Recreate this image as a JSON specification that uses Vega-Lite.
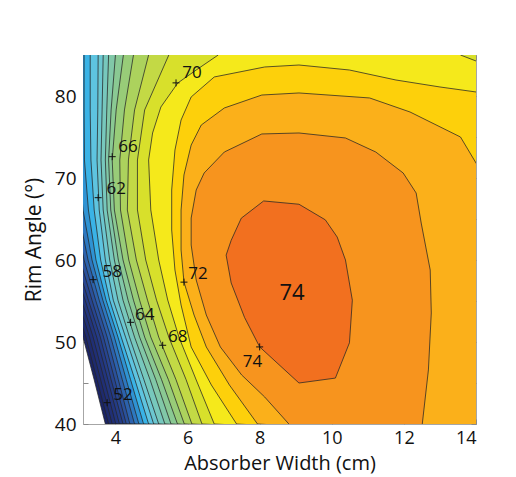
{
  "$schema": "https://vega.github.io/schema/vega-lite/v6.json",
  "width": 393,
  "height": 369,
  "autosize": {"type": "none"},
  "padding": {"left": 83, "top": 55, "right": 40, "bottom": 53},
  "background": "white",
  "config": {
    "font": "Open Sans",
    "view": {"stroke": "#a6a6a6", "strokeWidth": 1},
    "axis": {"grid": false, "domain": false, "tickColor": "#8a8a8a", "tickWidth": 1, "labelColor": "#111111", "titleColor": "#111111", "titleFontWeight": "normal"}
  },
  "datasets": {
    "contours": [
      {"level":50,"i":0,"x":1.87,"y":85},{"level":50,"i":1,"x":1.84,"y":78.3},{"level":50,"i":2,"x":1.67,"y":72.2},{"level":50,"i":3,"x":2.04,"y":66.1},{"level":50,"i":4,"x":2.34,"y":60},{"level":50,"i":5,"x":2.76,"y":55.1},{"level":50,"i":6,"x":3.10,"y":50.6},{"level":50,"i":7,"x":3.41,"y":45.4},{"level":50,"i":8,"x":3.72,"y":40},{"level":50,"i":9,"x":16,"y":38},{"level":50,"i":10,"x":16,"y":87},
      {"level":51,"i":0,"x":2.01,"y":85},{"level":51,"i":1,"x":1.98,"y":78.3},{"level":51,"i":2,"x":1.83,"y":72.2},{"level":51,"i":3,"x":2.12,"y":66.1},{"level":51,"i":4,"x":2.46,"y":60},{"level":51,"i":5,"x":2.86,"y":55.1},{"level":51,"i":6,"x":3.18,"y":50.6},{"level":51,"i":7,"x":3.49,"y":45.4},{"level":51,"i":8,"x":3.81,"y":40},{"level":51,"i":9,"x":16,"y":38},{"level":51,"i":10,"x":16,"y":87},
      {"level":52,"i":0,"x":2.15,"y":85},{"level":52,"i":1,"x":2.12,"y":78.3},{"level":52,"i":2,"x":1.98,"y":72.2},{"level":52,"i":3,"x":2.25,"y":66.1},{"level":52,"i":4,"x":2.57,"y":60},{"level":52,"i":5,"x":2.96,"y":55.1},{"level":52,"i":6,"x":3.28,"y":50.6},{"level":52,"i":7,"x":3.59,"y":45.4},{"level":52,"i":8,"x":3.91,"y":40},{"level":52,"i":9,"x":16,"y":38},{"level":52,"i":10,"x":16,"y":87},
      {"level":53,"i":0,"x":2.29,"y":85},{"level":53,"i":1,"x":2.26,"y":78.3},{"level":53,"i":2,"x":2.13,"y":72.2},{"level":53,"i":3,"x":2.37,"y":66.1},{"level":53,"i":4,"x":2.68,"y":60},{"level":53,"i":5,"x":3.06,"y":55.1},{"level":53,"i":6,"x":3.38,"y":50.6},{"level":53,"i":7,"x":3.69,"y":45.4},{"level":53,"i":8,"x":4.01,"y":40},{"level":53,"i":9,"x":16,"y":38},{"level":53,"i":10,"x":16,"y":87},
      {"level":54,"i":0,"x":2.43,"y":85},{"level":54,"i":1,"x":2.40,"y":78.3},{"level":54,"i":2,"x":2.29,"y":72.2},{"level":54,"i":3,"x":2.50,"y":66.1},{"level":54,"i":4,"x":2.79,"y":60},{"level":54,"i":5,"x":3.16,"y":55.1},{"level":54,"i":6,"x":3.48,"y":50.6},{"level":54,"i":7,"x":3.79,"y":45.4},{"level":54,"i":8,"x":4.11,"y":40},{"level":54,"i":9,"x":16,"y":38},{"level":54,"i":10,"x":16,"y":87},
      {"level":55,"i":0,"x":2.57,"y":85},{"level":55,"i":1,"x":2.54,"y":78.3},{"level":55,"i":2,"x":2.44,"y":72.2},{"level":55,"i":3,"x":2.62,"y":66.1},{"level":55,"i":4,"x":2.90,"y":60},{"level":55,"i":5,"x":3.25,"y":55.1},{"level":55,"i":6,"x":3.58,"y":50.6},{"level":55,"i":7,"x":3.88,"y":45.4},{"level":55,"i":8,"x":4.21,"y":40},{"level":55,"i":9,"x":16,"y":38},{"level":55,"i":10,"x":16,"y":87},
      {"level":56,"i":0,"x":2.71,"y":85},{"level":56,"i":1,"x":2.68,"y":78.3},{"level":56,"i":2,"x":2.60,"y":72.2},{"level":56,"i":3,"x":2.75,"y":66.1},{"level":56,"i":4,"x":3.02,"y":60},{"level":56,"i":5,"x":3.35,"y":55.1},{"level":56,"i":6,"x":3.67,"y":50.6},{"level":56,"i":7,"x":3.98,"y":45.4},{"level":56,"i":8,"x":4.30,"y":40},{"level":56,"i":9,"x":16,"y":38},{"level":56,"i":10,"x":16,"y":87},
      {"level":57,"i":0,"x":2.80,"y":85},{"level":57,"i":1,"x":2.78,"y":78.3},{"level":57,"i":2,"x":2.72,"y":72.2},{"level":57,"i":3,"x":2.86,"y":66.1},{"level":57,"i":4,"x":3.13,"y":60},{"level":57,"i":5,"x":3.45,"y":55.1},{"level":57,"i":6,"x":3.77,"y":50.6},{"level":57,"i":7,"x":4.08,"y":45.4},{"level":57,"i":8,"x":4.40,"y":40},{"level":57,"i":9,"x":16,"y":38},{"level":57,"i":10,"x":16,"y":87},
      {"level":58,"i":0,"x":2.90,"y":85},{"level":58,"i":1,"x":2.88,"y":78.3},{"level":58,"i":2,"x":2.85,"y":72.2},{"level":58,"i":3,"x":2.96,"y":66.1},{"level":58,"i":4,"x":3.24,"y":60},{"level":58,"i":5,"x":3.55,"y":55.1},{"level":58,"i":6,"x":3.87,"y":50.6},{"level":58,"i":7,"x":4.19,"y":45.4},{"level":58,"i":8,"x":4.53,"y":40},{"level":58,"i":9,"x":16,"y":38},{"level":58,"i":10,"x":16,"y":87},
      {"level":59,"i":0,"x":3.02,"y":85},{"level":59,"i":1,"x":3.00,"y":78.3},{"level":59,"i":2,"x":2.99,"y":72.2},{"level":59,"i":3,"x":3.10,"y":66.1},{"level":59,"i":4,"x":3.35,"y":60},{"level":59,"i":5,"x":3.65,"y":55.1},{"level":59,"i":6,"x":3.97,"y":50.6},{"level":59,"i":7,"x":4.30,"y":45.4},{"level":59,"i":8,"x":4.65,"y":40},{"level":59,"i":9,"x":16,"y":38},{"level":59,"i":10,"x":16,"y":87},
      {"level":60,"i":0,"x":3.13,"y":85},{"level":60,"i":1,"x":3.13,"y":78.3},{"level":60,"i":2,"x":3.14,"y":72.2},{"level":60,"i":3,"x":3.25,"y":66.1},{"level":60,"i":4,"x":3.46,"y":60},{"level":60,"i":5,"x":3.74,"y":55.1},{"level":60,"i":6,"x":4.07,"y":50.6},{"level":60,"i":7,"x":4.42,"y":45.4},{"level":60,"i":8,"x":4.78,"y":40},{"level":60,"i":9,"x":16,"y":38},{"level":60,"i":10,"x":16,"y":87},
      {"level":61,"i":0,"x":3.30,"y":85},{"level":61,"i":1,"x":3.30,"y":78.3},{"level":61,"i":2,"x":3.32,"y":72.2},{"level":61,"i":3,"x":3.41,"y":66.1},{"level":61,"i":4,"x":3.59,"y":60},{"level":61,"i":5,"x":3.84,"y":55.1},{"level":61,"i":6,"x":4.16,"y":50.6},{"level":61,"i":7,"x":4.54,"y":45.4},{"level":61,"i":8,"x":4.92,"y":40},{"level":61,"i":9,"x":16,"y":38},{"level":61,"i":10,"x":16,"y":87},
      {"level":62,"i":0,"x":3.52,"y":85},{"level":62,"i":1,"x":3.51,"y":78.3},{"level":62,"i":2,"x":3.49,"y":72.2},{"level":62,"i":3,"x":3.55,"y":66.1},{"level":62,"i":4,"x":3.72,"y":60},{"level":62,"i":5,"x":3.94,"y":55.1},{"level":62,"i":6,"x":4.28,"y":50.6},{"level":62,"i":7,"x":4.67,"y":45.4},{"level":62,"i":8,"x":5.06,"y":40},{"level":62,"i":9,"x":16,"y":38},{"level":62,"i":10,"x":16,"y":87},
      {"level":63,"i":0,"x":3.66,"y":85},{"level":63,"i":1,"x":3.63,"y":78.3},{"level":63,"i":2,"x":3.60,"y":72.2},{"level":63,"i":3,"x":3.66,"y":66.1},{"level":63,"i":4,"x":3.84,"y":60},{"level":63,"i":5,"x":4.07,"y":55.1},{"level":63,"i":6,"x":4.39,"y":50.6},{"level":63,"i":7,"x":4.79,"y":45.4},{"level":63,"i":8,"x":5.20,"y":40},{"level":63,"i":9,"x":16,"y":38},{"level":63,"i":10,"x":16,"y":87},
      {"level":64,"i":0,"x":3.81,"y":85},{"level":64,"i":1,"x":3.76,"y":78.3},{"level":64,"i":2,"x":3.72,"y":72.2},{"level":64,"i":3,"x":3.77,"y":66.1},{"level":64,"i":4,"x":3.97,"y":60},{"level":64,"i":5,"x":4.21,"y":55.1},{"level":64,"i":6,"x":4.53,"y":50.6},{"level":64,"i":7,"x":4.96,"y":45.4},{"level":64,"i":8,"x":5.37,"y":40},{"level":64,"i":9,"x":16,"y":38},{"level":64,"i":10,"x":16,"y":87},
      {"level":65,"i":0,"x":4.00,"y":85},{"level":65,"i":1,"x":3.88,"y":78.3},{"level":65,"i":2,"x":3.81,"y":72.2},{"level":65,"i":3,"x":3.87,"y":66.1},{"level":65,"i":4,"x":4.08,"y":60},{"level":65,"i":5,"x":4.35,"y":55.1},{"level":65,"i":6,"x":4.67,"y":50.6},{"level":65,"i":7,"x":5.12,"y":45.4},{"level":65,"i":8,"x":5.54,"y":40},{"level":65,"i":9,"x":16,"y":38},{"level":65,"i":10,"x":16,"y":87},
      {"level":66,"i":0,"x":4.22,"y":85},{"level":66,"i":1,"x":4.02,"y":78.3},{"level":66,"i":2,"x":3.91,"y":72.2},{"level":66,"i":3,"x":3.97,"y":66.1},{"level":66,"i":4,"x":4.21,"y":60},{"level":66,"i":5,"x":4.50,"y":55.1},{"level":66,"i":6,"x":4.81,"y":50.6},{"level":66,"i":7,"x":5.28,"y":45.4},{"level":66,"i":8,"x":5.72,"y":40},{"level":66,"i":9,"x":16,"y":38},{"level":66,"i":10,"x":16,"y":87},
      {"level":67,"i":0,"x":4.50,"y":85},{"level":67,"i":1,"x":4.25,"y":78.3},{"level":67,"i":2,"x":4.12,"y":72.2},{"level":67,"i":3,"x":4.14,"y":66.1},{"level":67,"i":4,"x":4.37,"y":60},{"level":67,"i":5,"x":4.67,"y":55.1},{"level":67,"i":6,"x":4.98,"y":50.6},{"level":67,"i":7,"x":5.47,"y":45.4},{"level":67,"i":8,"x":5.91,"y":40},{"level":67,"i":9,"x":16,"y":38},{"level":67,"i":10,"x":16,"y":87},
      {"level":68,"i":0,"x":4.92,"y":85},{"level":68,"i":1,"x":4.53,"y":78.3},{"level":68,"i":2,"x":4.36,"y":72.2},{"level":68,"i":3,"x":4.33,"y":66.1},{"level":68,"i":4,"x":4.58,"y":60},{"level":68,"i":5,"x":4.89,"y":55.1},{"level":68,"i":6,"x":5.20,"y":50.6},{"level":68,"i":7,"x":5.68,"y":45.4},{"level":68,"i":8,"x":6.12,"y":40},{"level":68,"i":9,"x":16,"y":38},{"level":68,"i":10,"x":16,"y":87},
      {"level":69,"i":0,"x":5.48,"y":85},{"level":69,"i":1,"x":4.81,"y":78.3},{"level":69,"i":2,"x":4.61,"y":72.2},{"level":69,"i":3,"x":4.61,"y":66.1},{"level":69,"i":4,"x":4.84,"y":60},{"level":69,"i":5,"x":5.14,"y":55.1},{"level":69,"i":6,"x":5.48,"y":50.6},{"level":69,"i":7,"x":5.96,"y":45.4},{"level":69,"i":8,"x":6.40,"y":40},{"level":69,"i":9,"x":16,"y":38},{"level":69,"i":10,"x":16,"y":87},
      {"level":70,"i":0,"x":6.85,"y":87},{"level":70,"i":1,"x":6.85,"y":85},{"level":70,"i":2,"x":6.24,"y":83.17},{"level":70,"i":3,"x":5.73,"y":81.59},{"level":70,"i":4,"x":5.26,"y":78.66},{"level":70,"i":5,"x":5.03,"y":75.49},{"level":70,"i":6,"x":4.92,"y":72.2},{"level":70,"i":7,"x":4.98,"y":66.1},{"level":70,"i":8,"x":5.20,"y":60},{"level":70,"i":9,"x":5.45,"y":55.12},{"level":70,"i":10,"x":5.76,"y":50.61},{"level":70,"i":11,"x":6.24,"y":45.37},{"level":70,"i":12,"x":6.74,"y":40},{"level":70,"i":13,"x":16,"y":38},{"level":70,"i":14,"x":16,"y":83.5},{"level":70,"i":15,"x":14.4,"y":83.9},{"level":70,"i":16,"x":14.0,"y":84.27},{"level":70,"i":17,"x":13.57,"y":85},{"level":70,"i":18,"x":13.4,"y":87},
      {"level":71,"i":0,"x":16,"y":80.2},{"level":71,"i":1,"x":14.39,"y":80.24},{"level":71,"i":2,"x":14.0,"y":80.49},{"level":71,"i":3,"x":13.0,"y":81.1},{"level":71,"i":4,"x":11.78,"y":81.95},{"level":71,"i":5,"x":10.49,"y":83.17},{"level":71,"i":6,"x":9.09,"y":83.78},{"level":71,"i":7,"x":8.14,"y":83.54},{"level":71,"i":8,"x":6.74,"y":82.32},{"level":71,"i":9,"x":6.10,"y":79.88},{"level":71,"i":10,"x":5.82,"y":77.07},{"level":71,"i":11,"x":5.65,"y":73.41},{"level":71,"i":12,"x":5.56,"y":68.54},{"level":71,"i":13,"x":5.56,"y":63.66},{"level":71,"i":14,"x":5.65,"y":58.78},{"level":71,"i":15,"x":5.82,"y":54.51},{"level":71,"i":16,"x":6.10,"y":49.39},{"level":71,"i":17,"x":6.66,"y":44.76},{"level":71,"i":18,"x":7.36,"y":40},{"level":71,"i":19,"x":16,"y":38},
      {"level":72,"i":0,"x":16,"y":67},{"level":72,"i":1,"x":14.39,"y":69.15},{"level":72,"i":2,"x":14.0,"y":71.83},{"level":72,"i":3,"x":13.57,"y":75.0},{"level":72,"i":4,"x":12.17,"y":78.05},{"level":72,"i":5,"x":11.05,"y":79.76},{"level":72,"i":6,"x":9.09,"y":80.37},{"level":72,"i":7,"x":8.06,"y":80.12},{"level":72,"i":8,"x":7.02,"y":78.54},{"level":72,"i":9,"x":6.38,"y":76.46},{"level":72,"i":10,"x":6.10,"y":74.02},{"level":72,"i":11,"x":5.90,"y":70.37},{"level":72,"i":12,"x":5.82,"y":66.1},{"level":72,"i":13,"x":5.82,"y":61.22},{"level":72,"i":14,"x":5.90,"y":57.32},{"level":72,"i":15,"x":6.18,"y":53.29},{"level":72,"i":16,"x":6.52,"y":49.39},{"level":72,"i":17,"x":7.16,"y":44.76},{"level":72,"i":18,"x":7.94,"y":40},{"level":72,"i":19,"x":16,"y":38},
      {"level":73,"i":0,"x":8.81,"y":38},{"level":73,"i":1,"x":8.81,"y":40},{"level":73,"i":2,"x":8.14,"y":43.29},{"level":73,"i":3,"x":7.50,"y":45.98},{"level":73,"i":4,"x":6.91,"y":49.39},{"level":73,"i":5,"x":6.52,"y":53.29},{"level":73,"i":6,"x":6.24,"y":57.56},{"level":73,"i":7,"x":6.10,"y":61.83},{"level":73,"i":8,"x":6.10,"y":65.12},{"level":73,"i":9,"x":6.24,"y":68.54},{"level":73,"i":10,"x":6.46,"y":70.61},{"level":73,"i":11,"x":7.02,"y":73.17},{"level":73,"i":12,"x":8.06,"y":75.37},{"level":73,"i":13,"x":9.09,"y":75.49},{"level":73,"i":14,"x":10.38,"y":74.88},{"level":73,"i":15,"x":11.22,"y":73.17},{"level":73,"i":16,"x":11.98,"y":70.61},{"level":73,"i":17,"x":12.34,"y":68.17},{"level":73,"i":18,"x":12.48,"y":64.51},{"level":73,"i":19,"x":12.73,"y":58.78},{"level":73,"i":20,"x":12.76,"y":53.54},{"level":73,"i":21,"x":12.68,"y":46.59},{"level":73,"i":22,"x":12.51,"y":40},{"level":73,"i":23,"x":12.51,"y":38},
      {"level":74,"i":0,"x":8.11,"y":67.2},{"level":74,"i":1,"x":9.09,"y":66.8},{"level":74,"i":2,"x":9.82,"y":64.9},{"level":74,"i":3,"x":10.15,"y":62.8},{"level":74,"i":4,"x":10.38,"y":60.0},{"level":74,"i":5,"x":10.57,"y":55.1},{"level":74,"i":6,"x":10.49,"y":49.9},{"level":74,"i":7,"x":10.10,"y":45.6},{"level":74,"i":8,"x":9.09,"y":45.0},{"level":74,"i":9,"x":8.0,"y":49.4},{"level":74,"i":10,"x":7.58,"y":53.0},{"level":74,"i":11,"x":7.21,"y":57.2},{"level":74,"i":12,"x":7.07,"y":60.6},{"level":74,"i":13,"x":7.21,"y":62.4},{"level":74,"i":14,"x":7.49,"y":65.1},{"level":74,"i":15,"x":8.11,"y":67.2}
    ],
    "markers": [
      {"level":70,"x":5.68,"y":81.6},{"level":66,"x":3.91,"y":72.6},{"level":62,"x":3.52,"y":67.6},{"level":58,"x":3.38,"y":57.6},{"level":64,"x":4.42,"y":52.4},{"level":68,"x":5.31,"y":49.6},{"level":72,"x":5.90,"y":57.3},{"level":52,"x":3.77,"y":42.6},{"level":74,"x":8.0,"y":49.4}
    ],
    "labels": [
      {"text":"70","x":6.12,"y":82.8},{"text":"66","x":4.35,"y":73.8},{"text":"62","x":4.02,"y":68.7},{"text":"58","x":3.91,"y":58.5},{"text":"64","x":4.81,"y":53.3},{"text":"68","x":5.73,"y":50.6},{"text":"72","x":6.29,"y":58.3},{"text":"52","x":4.21,"y":43.5},{"text":"74","x":7.80,"y":47.6}
    ],
    "peak": [{"text":"74","x":8.9,"y":56.0}]
  },
  "layer": [
    {
      "data": {"name": "contours"},
      "mark": {"type": "line", "filled": true, "clip": true, "strokeWidth": 0, "interpolate": "linear"},
      "encoding": {
        "x": {"field": "x", "type": "quantitative", "scale": {"domain": [3.1, 14], "nice": false, "zero": false},
              "axis": {"orient": "bottom", "values": [4, 6, 8, 10, 12, 14], "title": "Absorber Width (cm)", "tickSize": -5, "labelFontSize": 18, "labelPadding": 10, "titleFontSize": 20, "titlePadding": 6}},
        "y": {"field": "y", "type": "quantitative", "scale": {"domain": [40, 85], "nice": false, "zero": false},
              "axis": {"orient": "left", "values": [40, 45, 50, 55, 60, 65, 70, 75, 80, 85], "labelExpr": "datum.value % 10 === 0 && datum.value < 85 ? datum.label : ''", "title": "Rim Angle (°)", "tickSize": -5, "labelFontSize": 19, "labelPadding": 12, "titleFontSize": 21, "titlePadding": 10}},
        "color": {"field": "level", "type": "ordinal", "legend": null,
                  "scale": {"domain": [50,51,52,53,54,55,56,57,58,59,60,61,62,63,64,65,66,67,68,69,70,71,72,73,74],
                            "range": ["#1b2466","#1e2a6e","#202f76","#22357e","#243c87","#274591","#2a519c","#2c62ad","#2d78c0","#2f93d3","#3ab3e6","#5ec4e0","#6cc7d0","#77c8bd","#81c8a8","#8ac993","#98cc78","#acd25d","#c3d945","#d8e02b","#f5e91b","#fdd00b","#fbb01a","#f7941e","#f2701f"]}},
        "order": {"field": "i", "type": "quantitative"}
      }
    },
    {
      "data": {"name": "contours"},
      "mark": {"type": "line", "clip": true, "stroke": "#262626", "strokeWidth": 0.9, "strokeOpacity": 0.85, "interpolate": "linear"},
      "encoding": {
        "x": {"field": "x", "type": "quantitative", "axis": {"orient": "top", "values": [4, 6, 8, 10, 12, 14], "labels": false, "title": null, "tickSize": -5}},
        "y": {"field": "y", "type": "quantitative", "axis": {"orient": "right", "values": [40, 45, 50, 55, 60, 65, 70, 75, 80, 85], "labels": false, "title": null, "tickSize": -5}},
        "detail": {"field": "level", "type": "nominal"},
        "order": {"field": "i", "type": "quantitative"}
      }
    },
    {
      "data": {"name": "markers"},
      "mark": {"type": "point", "shape": "M-1,0L1,0M0,-1L0,1", "size": 49, "filled": false, "stroke": "#111111", "strokeWidth": 1, "opacity": 1},
      "encoding": {
        "x": {"field": "x", "type": "quantitative", "axis": null},
        "y": {"field": "y", "type": "quantitative", "axis": null}
      }
    },
    {
      "data": {"name": "labels"},
      "mark": {"type": "text", "fontSize": 17, "font": "Open Sans", "color": "#111111", "align": "center", "baseline": "middle"},
      "encoding": {
        "x": {"field": "x", "type": "quantitative", "axis": null},
        "y": {"field": "y", "type": "quantitative", "axis": null},
        "text": {"field": "text", "type": "nominal"}
      }
    },
    {
      "data": {"name": "peak"},
      "mark": {"type": "text", "fontSize": 22, "font": "Open Sans", "color": "#111111", "align": "center", "baseline": "middle"},
      "encoding": {
        "x": {"field": "x", "type": "quantitative", "axis": null},
        "y": {"field": "y", "type": "quantitative", "axis": null},
        "text": {"field": "text", "type": "nominal"}
      }
    }
  ],
  "resolve": {"axis": {"x": "independent", "y": "independent"}}
}
